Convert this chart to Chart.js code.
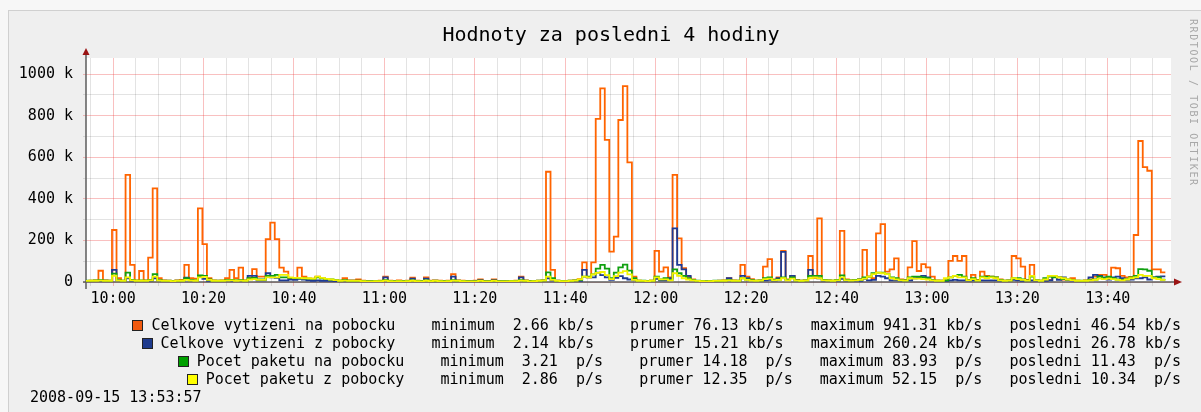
<!DOCTYPE html>
<html><head><meta charset="utf-8">
<script src="https://cdn.jsdelivr.net/npm/chart.js@4.4.0/dist/chart.umd.min.js"></script>
<style>
html,body{margin:0;padding:0;background:#f7f7f7;width:1201px;height:412px;overflow:hidden;position:relative;}
#frame{position:absolute;left:8px;top:10px;width:1260px;height:470px;background:#efefef;border-left:1px solid #d0d0d0;border-top:1px solid #d0d0d0;}
#c{position:absolute;left:0;top:0;width:1201px;height:412px;}
.t{position:absolute;font-family:"DejaVu Sans Mono",monospace;color:#000;white-space:pre;}
.leg{right:20px;font-size:15px;line-height:18px;text-align:right;}
.sw{display:inline-block;width:9px;height:9px;border:1px solid #222;margin-right:8px;vertical-align:-1px;}
</style></head><body>
<div id="frame"></div>
<canvas id="c" width="1201" height="412"></canvas>
<div class="t" style="left:311px;width:600px;top:24px;font-size:20px;line-height:20px;text-align:center;">Hodnoty za posledni 4 hodiny</div>
<div id="legend"></div>
<div class="t" id="date" style="left:30px;top:388px;font-size:15px;line-height:18px;"></div>
<div class="t" style="left:1188px;top:19px;font-size:10px;line-height:10px;color:#a8a8a8;writing-mode:vertical-rl;letter-spacing:1.6px;">RRDTOOL / TOBI OETIKER</div>
<script>
// ---- data (1-minute samples starting 9:53:45) ----
const startMinute = 53.75; // minutes after 9:00
const trafficIn = [
5,6,8,54,8,6,250,18,6,515,82,8,53,8,117,450,18,8,6,5,
8,10,82,18,16,354,182,18,8,6,8,18,58,18,69,8,18,62,26,26,
206,285,206,69,50,18,18,69,26,16,16,26,20,12,10,10,6,18,8,8,
13,6,5,4,5,6,26,6,5,8,5,6,21,6,5,22,6,8,6,5,
6,38,8,6,5,5,6,13,5,4,13,5,4,3,5,6,26,8,5,4,
6,8,530,58,6,5,4,6,8,14,94,22,94,784,931,683,146,218,779,941.31,
575,26,6,5,4,6,150,50,70,22,515,210,66,26,13,5,4,2.66,4,5,
6,8,18,8,6,82,26,14,6,8,74,110,13,22,150,13,29,10,6,8,
125,20,306,10,8,6,10,246,12,8,10,12,154,26,18,234,278,50,61,114,
13,10,70,197,53,86,70,26,8,6,8,102,125,102,125,10,34,10,50,29,
26,22,13,6,8,125,114,74,10,82,8,6,8,10,26,22,12,10,18,6,
5,8,12,26,34,34,20,69,66,29,22,24,226,678,552,535,61,61,46.54];
const trafficOut = [
4,4,5,4,6,4,58,5,4,18,6,4,5,4,5,18,5,4,4,3,
4,5,21,6,5,26,15,6,4,4,4,5,6,5,6,4,29,29,8,8,
42,22,20,8,8,12,10,15,12,8,6,8,6,5,5,4,4,6,4,4,
5,4,3,3,4,4,22,4,3,4,3,4,16,4,3,16,4,5,4,3,
4,26,5,4,3,3,4,8,3,3,8,3,3,2.14,3,4,22,5,3,3,
4,5,18,8,4,3,3,4,5,6,58,22,22,45,33,22,10,20,28,18,
12,10,4,3,3,4,15,8,8,18,258,82,61,29,10,4,3,3,3,4,
4,5,18,5,4,29,18,8,4,5,8,10,6,18,145,10,29,6,4,5,
58,29,18,6,5,4,6,15,5,4,6,6,15,8,10,29,26,18,8,8,
5,6,8,18,22,29,22,8,5,4,5,8,10,8,8,5,8,5,8,8,
8,8,6,4,5,10,8,6,5,8,5,4,5,8,26,10,22,10,8,5,
4,5,22,34,29,22,12,22,26,18,10,12,18,18,22,12,22,26,26.78];
const packetsIn = [
6,7,8,9,7,6,40,9,7,45,10,7,8,7,10,38,9,7,6,5,
6,7,18,9,8,32,29,12,7,6,7,9,10,8,9,7,18,20,12,12,
29,29,34,22,22,20,20,18,18,16,15,22,18,14,12,10,7,9,6,6,
6,5,4,4,5,5,9,5,4,5,4,5,8,5,4,8,5,6,5,4,
5,9,6,5,4,3.21,4,6,4,4,6,4,4,4,5,5,9,6,4,5,
6,8,46,18,6,5,5,6,8,10,26,26,37,64,82,64,18,45,70,83.93,
55,18,7,6,5,7,26,13,18,10,61,42,29,18,10,6,5,4,5,6,
6,7,9,7,6,18,12,9,7,8,18,22,10,12,22,10,22,8,6,8,
29,29,29,10,8,7,10,32,10,8,10,12,22,26,42,45,45,38,22,18,
9,8,22,26,26,22,18,10,7,6,8,22,29,34,26,9,18,8,26,26,
26,22,10,7,8,18,18,12,8,26,9,7,18,26,22,22,14,12,10,7,
6,7,10,12,26,18,26,18,12,10,14,22,29,62,61,54,22,22,11.43];
const packetsOut = [
5,6,6,7,6,5,30,7,5,22,8,6,6,5,8,26,7,5,5,4,
5,6,10,7,6,22,25,10,6,5,6,7,8,6,7,6,12,14,10,10,
22,22,22,34,34,22,20,20,18,18,16,26,20,15,12,9,6,7,5,5,
5,4,3,3,4,4,7,4,3,4,3,4,6,4,3,6,4,5,4,3,
4,7,5,4,3,2.86,3,5,3,3,5,3,3,3,4,4,7,5,3,4,
5,7,26,10,5,4,4,5,7,13,26,22,37,44,48,33,14,28,45,52.15,
37,10,6,5,4,6,22,13,13,8,42,29,18,12,8,5,4,3,4,5,
5,6,8,6,5,18,10,7,6,7,14,16,8,10,18,8,16,7,5,7,
18,22,18,8,7,6,8,22,8,7,8,10,16,26,38,45,42,38,18,13,
8,7,18,16,16,14,12,8,6,5,18,22,29,22,22,8,14,7,22,18,
22,18,8,6,7,18,14,10,7,29,8,6,12,29,29,22,18,12,9,6,
5,6,8,10,16,14,16,14,10,8,12,18,22,34,29,29,18,14,10.34];

const seriesNames = ['Celkove vytizeni na pobocku','Celkove vytizeni z pobocky','Pocet paketu na pobocku','Pocet paketu z pobocky'];
const seriesUnits = ['kb/s','kb/s','p/s','p/s'];
const seriesMin = [2.66, 2.14, 3.21, 2.86];
const seriesAvg = [76.13, 15.21, 14.18, 12.35];
const seriesMax = [941.31, 260.24, 83.93, 52.15];
const seriesLast = [46.54, 26.78, 11.43, 10.34];
const seriesColors = ['#ff6400','#1e3a94','#10a010','#f2f200'];
const swatchColors = ['#f05a10','#1e3a8c','#00a000','#ffff00'];
const timeLabels = ['10:00','10:20','10:40','11:00','11:20','11:40','12:00','12:20','12:40','13:00','13:20','13:40'];
const yTickLabels = ['0','200 k','400 k','600 k','800 k','1000 k'];
const stampText = '2008-09-15 13:53:57';

// ---- legend ----
function f(v){ return v.toFixed(2).padStart(5,' '); }
function u(s){ return s.padStart(4,' '); }
const legendEl = document.getElementById('legend');
seriesNames.forEach((name,i)=>{
  const d = document.createElement('div');
  d.className = 't leg';
  d.style.top = (316 + i*18) + 'px';
  const sw = document.createElement('span');
  sw.className = 'sw'; sw.style.background = swatchColors[i];
  d.appendChild(sw);
  d.appendChild(document.createTextNode(
    name + '    minimum ' + f(seriesMin[i]) + ' ' + u(seriesUnits[i]) +
    '    prumer ' + f(seriesAvg[i]) + ' ' + u(seriesUnits[i]) +
    '   maximum ' + f(seriesMax[i]) + ' ' + u(seriesUnits[i]) +
    '   posledni ' + f(seriesLast[i]) + ' ' + u(seriesUnits[i])));
  legendEl.appendChild(d);
});
document.getElementById('date').textContent = stampText;

// ---- chart ----
function toPoints(arr){
  const pts = arr.map((v,i)=>({x:startMinute+i, y:v}));
  pts.push({x:startMinute+arr.length, y:arr[arr.length-1]});
  return pts;
}
const allSeries = [trafficIn, trafficOut, packetsIn, packetsOut];
const datasets = allSeries.map((arr,i)=>({
  label: seriesNames[i],
  data: toPoints(arr),
  borderColor: seriesColors[i],
  borderWidth: 1.8,
  pointRadius: 0,
  stepped: 'before',
  fill: false,
  order: 4 - i
}));

const axisPlugin = {
  id:'axes',
  beforeDatasetsDraw(chart){
    const ctx = chart.ctx, a = chart.chartArea;
    const y0 = chart.scales.y.getPixelForValue(0);
    ctx.save();
    ctx.strokeStyle = '#5c5c5c'; ctx.lineWidth = 1.5;
    ctx.beginPath(); ctx.moveTo(a.left-3, y0); ctx.lineTo(a.right+4, y0); ctx.stroke();
    ctx.beginPath(); ctx.moveTo(a.left, y0+7); ctx.lineTo(a.left, a.top-4); ctx.stroke();
    ctx.fillStyle = '#9a1414';
    ctx.beginPath(); ctx.moveTo(a.right+3, y0-3.5); ctx.lineTo(a.right+11, y0); ctx.lineTo(a.right+3, y0+3.5); ctx.closePath(); ctx.fill();
    ctx.beginPath(); ctx.moveTo(a.left-3.5, a.top-3); ctx.lineTo(a.left, a.top-10); ctx.lineTo(a.left+3.5, a.top-3); ctx.closePath(); ctx.fill();
    ctx.restore();
  }
};
const bgPlugin = {
  id:'bg',
  beforeDraw(chart){
    const ctx = chart.ctx, a = chart.chartArea;
    ctx.save(); ctx.fillStyle = '#ffffff';
    ctx.fillRect(a.left, a.top, a.right-a.left, a.bottom-a.top);
    ctx.restore();
  }
};
const RED = 'rgba(235,60,60,0.32)', GRAY = 'rgba(0,0,0,0.11)';
const tickFont = {family:'"DejaVu Sans Mono", monospace', size:15};

new Chart(document.getElementById('c'), {
  type:'line',
  data:{datasets},
  plugins:[bgPlugin, axisPlugin],
  options:{
    responsive:false, animation:false, devicePixelRatio:1,
    layout:{padding:{left:8, right:30, top:58, bottom:0}},
    plugins:{legend:{display:false}, tooltip:{enabled:false}, title:{display:false}},
    elements:{line:{tension:0}},
    scales:{
      x:{
        type:'linear', min:54, max:294,
        afterBuildTicks(sc){ const t=[]; for(let m=55;m<=290;m+=5) t.push({value:m}); sc.ticks=t; },
        afterFit(sc){ sc.height = 130; },
        ticks:{autoSkip:false, maxRotation:0, color:'#000', font:tickFont, padding:4,
          callback:(v)=> (v%20===0 && v>=60) ? timeLabels[(v-60)/20] : ''},
        grid:{color:(c)=> (c.tick && c.tick.value%20===0) ? RED : GRAY, lineWidth:1, tickLength:4, drawTicks:true},
        border:{display:false}
      },
      y:{
        min:0, max:1077,
        afterBuildTicks(sc){ const t=[]; for(let v=0;v<=1000;v+=100) t.push({value:v}); sc.ticks=t; },
        afterFit(sc){ sc.width = 78; },
        ticks:{autoSkip:false, color:'#000', font:tickFont, padding:10,
          callback:(v)=> v%200===0 ? yTickLabels[v/200] : ''},
        grid:{color:(c)=> (c.tick && c.tick.value%200===0) ? RED : GRAY, lineWidth:1, tickLength:3, drawTicks:true},
        border:{display:false}
      }
    }
  }
});
</script>
</body></html>
